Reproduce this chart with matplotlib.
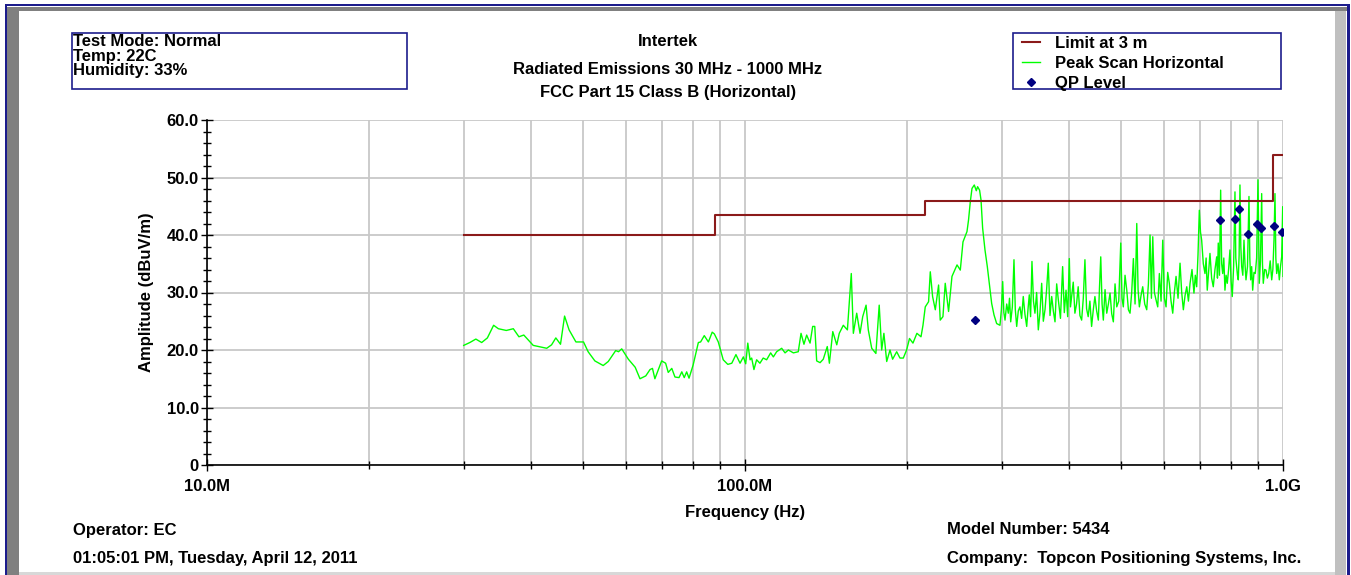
"""
radiated emission plot (FCC Part 15 Class B, horizontal)
"""

#------------------------------------------------------------
# import
import matplotlib
matplotlib.use("Agg")
import matplotlib.pyplot as plt
import matplotlib.ticker as mticker
from matplotlib.patches import Rectangle, Polygon
import numpy as np

#------------------------------------------------------------
# data

# peak scan (MHz / dBuV/m), 30 - 103 MHz
peak_freq_low = [
    30.0, 30.8, 31.6, 32.4, 33.2, 34.1, 34.8, 36.0, 37.1, 38.0,
    38.8, 40.4, 42.8, 43.7, 44.5, 45.4, 46.2, 47.1, 48.5, 50.1,
    51.1, 52.6, 54.5, 55.7, 57.5, 58.2, 59.0, 60.7, 62.5, 63.8,
    65.4, 66.6, 67.3, 68.0, 70.0, 71.2, 72.0, 73.1, 74.1, 75.4,
    76.3, 77.1, 77.9, 78.7, 80.1, 81.9, 82.7, 84.0, 85.5, 86.9,
    87.7, 89.2, 91.1, 92.9, 94.5, 96.2, 97.9, 99.3, 100.3, 101.2,
    102.2, 102.9,
]
peak_level_low = [
    20.8, 21.3, 21.9, 21.3, 22.1, 24.3, 23.7, 23.4, 23.7, 22.3,
    22.6, 20.8, 20.3, 20.9, 22.1, 21.0, 25.9, 23.5, 21.4, 21.4,
    19.7, 18.1, 17.3, 18.0, 19.9, 19.7, 20.2, 18.4, 17.0, 15.0,
    15.5, 16.6, 16.8, 15.0, 18.1, 17.7, 16.1, 16.8, 15.3, 15.2,
    16.2, 15.2, 16.2, 15.1, 17.4, 21.3, 21.4, 22.5, 21.4, 23.1,
    22.8, 21.4, 18.3, 17.5, 17.7, 19.2, 17.7, 18.8, 17.6, 21.2,
    18.3, 18.6,
]

# 104 - 273 MHz
peak_freq_mid = [
    103.9, 105.1, 106.6, 108.1, 109.7, 111.6, 112.9, 114.5, 117.0, 118.7,
    120.4, 123.0, 125.6, 127.1, 128.7, 130.2, 132.1, 133.6, 134.8, 135.9,
    137.9, 139.8, 142.2, 143.5, 145.6, 148.1, 149.7, 152.3, 155.0, 157.6,
    159.0, 161.3, 163.6, 165.5, 167.9, 169.5, 172.0, 175.1, 177.6, 179.5,
    181.2, 183.4, 186.0, 188.1, 191.4, 194.1, 196.9, 199.7, 202.2, 205.2,
    208.7, 212.4, 214.2, 216.3, 219.4, 221.0, 223.2, 225.8, 229.0, 230.6,
    233.3, 235.6, 239.0, 242.5, 247.8, 251.3, 254.2, 258.6, 260.3, 262.3,
    264.2, 266.8, 269.1, 270.6, 272.9,
]
peak_level_mid = [
    16.6, 18.3, 17.7, 18.6, 18.3, 19.5, 18.8, 19.7, 20.3, 19.5,
    20.0, 19.5, 19.7, 22.9, 21.0, 22.6, 21.2, 24.1, 24.1, 18.1,
    17.8, 18.4, 20.6, 17.7, 23.2, 20.9, 22.9, 24.3, 23.5, 33.3,
    22.9, 26.4, 22.9, 25.8, 27.8, 23.5, 20.3, 19.4, 27.8, 20.0,
    22.9, 18.0, 20.0, 18.4, 19.7, 18.6, 18.6, 20.0, 22.0, 21.2,
    22.9, 22.3, 24.3, 27.5, 28.4, 33.6, 29.3, 27.0, 31.3, 25.2,
    25.8, 31.6, 26.7, 32.8, 34.8, 33.9, 38.8, 40.6, 42.6, 45.8,
    48.1, 48.7, 47.7, 48.4, 47.8,
]

# 275 - 1000 MHz
peak_freq_high = [
    274.6, 276.5, 279.3, 282.1, 284.5, 287.4, 290.3, 293.6, 297.8, 299.6,
    301.3, 302.8, 304.3, 306.5, 308.6, 310.2, 311.8, 314.0, 316.2, 318.0,
    319.9, 322.1, 324.4, 326.7, 329.0, 331.4, 333.9, 335.7, 337.6, 339.5,
    341.5, 343.7, 345.9, 348.4, 350.9, 353.4, 356.0, 358.5, 361.1, 363.6,
    366.2, 368.9, 371.6, 374.2, 376.9, 379.6, 382.3, 385.8, 389.4, 392.2,
    395.1, 397.9, 400.7, 402.7, 404.7, 407.5, 410.4, 413.3, 416.2, 419.3,
    422.4, 425.4, 428.4, 431.4, 434.4, 437.6, 440.8, 444.0, 447.1, 450.4,
    453.7, 456.0, 458.4, 461.0, 463.5, 466.9, 470.3, 473.6, 477.0, 480.4,
    483.8, 487.3, 490.9, 495.1, 499.4, 502.1, 504.9, 508.6, 512.4, 516.0,
    519.6, 523.3, 527.1, 530.9, 534.8, 537.8, 540.8, 544.7, 548.6, 553.3,
    558.1, 562.1, 566.1, 569.4, 572.7, 576.7, 580.8, 585.0, 589.1, 593.4,
    597.7, 601.9, 606.2, 610.5, 614.8, 619.3, 623.8, 628.2, 632.7, 638.1,
    643.6, 648.2, 652.8, 657.6, 662.4, 667.1, 671.8, 677.4, 683.1, 687.1,
    691.1, 695.0, 699.0, 702.5, 706.0, 711.0, 716.1, 719.6, 723.1, 727.3,
    731.6, 736.8, 742.0, 747.4, 752.9, 755.4, 758.0, 761.9, 765.8, 769.1,
    772.5, 776.2, 780.0, 783.9, 787.8, 792.3, 796.9, 800.8, 804.8, 809.5,
    814.2, 817.1, 820.1, 822.9, 825.8, 828.8, 831.8, 834.8, 837.9, 842.0,
    846.2, 849.8, 853.5, 859.0, 864.5, 867.6, 870.7, 874.5, 878.3, 883.2,
    888.1, 893.3, 898.5, 903.5, 908.1, 912.8, 915.9, 919.1, 924.4, 929.8,
    935.2, 940.6, 946.7, 952.8, 957.5, 962.2, 966.3, 969.8, 973.4, 978.8,
    984.3, 989.3, 994.4, 998.7, 1000.0,
]
peak_level_high = [
    46.1, 41.2, 37.4, 34.5, 31.6, 28.1, 26.1, 24.6, 24.3, 27.0,
    31.9, 26.5, 25.2, 28.0, 26.4, 29.0, 24.9, 27.5, 35.7, 27.0,
    24.1, 26.8, 27.5, 25.5, 29.3, 26.2, 24.1, 27.0, 29.6, 25.8,
    35.4, 28.5, 26.4, 30.0, 23.5, 26.5, 31.6, 25.0, 27.0, 30.5,
    35.1, 26.0, 29.3, 26.8, 24.9, 31.5, 28.7, 25.5, 34.5, 26.5,
    30.4, 25.8, 35.9, 27.5, 29.3, 31.8, 26.4, 28.0, 31.0, 26.0,
    25.2, 29.0, 35.7, 27.2, 25.8, 28.5, 24.1, 27.0, 29.3, 26.8,
    25.2, 31.0, 36.2, 28.0, 25.2, 30.5, 26.4, 28.0, 29.9, 26.3,
    24.9, 31.5, 27.5, 28.5, 38.6, 29.0, 27.5, 33.0, 30.4, 27.0,
    26.4, 30.0, 35.9, 28.0, 42.0, 30.5, 27.5, 29.5, 31.0, 28.0,
    27.0, 31.5, 40.0, 29.0, 39.7, 30.0, 28.7, 27.5, 33.3, 28.5,
    39.1, 29.0, 27.5, 33.5, 31.6, 28.5, 26.4, 30.0, 32.8, 29.0,
    35.1, 30.0, 27.0, 29.5, 31.0, 28.5, 31.6, 34.0, 29.9, 33.0,
    31.0, 36.5, 44.3, 40.5, 39.1, 35.0, 33.3, 36.0, 30.4, 33.5,
    36.8, 32.5, 31.0, 34.0, 36.2, 32.5, 38.6, 33.0, 47.8, 35.0,
    33.3, 36.0, 30.4, 33.0, 31.6, 34.0, 37.4, 32.0, 29.3, 34.5,
    47.5, 36.0, 34.5, 33.0, 32.2, 36.5, 48.7, 38.0, 34.5, 33.0,
    39.1, 35.0, 32.2, 34.5, 46.7, 36.0, 32.2, 34.5, 30.4, 33.5,
    33.3, 36.0, 49.6, 31.6, 35.5, 47.2, 35.0, 31.6, 34.0, 33.9,
    32.5, 33.3, 35.5, 32.2, 34.0, 39.1, 47.2, 36.0, 33.3, 35.0,
    32.2, 34.5, 36.2, 44.9, 32.8,
]

# limit at 3 m (step line)
limit_freq = [30.0, 88.0, 88.0, 216.0, 216.0, 960.0, 960.0, 1000.0]
limit_level = [40.0, 40.0, 43.5, 43.5, 46.0, 46.0, 54.0, 54.0]

# QP level
qp_freq = [268.0, 764.0, 814.0, 829.0, 861.0, 896.0, 910.0, 963.0, 996.0]
qp_level = [25.3, 42.6, 42.7, 44.6, 40.2, 42.0, 41.2, 41.5, 40.6]

# texts
info_lines = ["Test Mode: Normal", "Temp: 22C", "Humidity: 33%"]
title_lines = ["Intertek", "Radiated Emissions 30 MHz - 1000 MHz",
               "FCC Part 15 Class B (Horizontal)"]
legend_labels = ["Limit at 3 m", "Peak Scan Horizontal", "QP Level"]
y_ticks = [0, 10, 20, 30, 40, 50, 60]
y_tick_labels = ["0", "10.0", "20.0", "30.0", "40.0", "50.0", "60.0"]
x_ticks = [10e6, 100e6, 1000e6]
x_tick_labels = ["10.0M", "100.0M", "1.0G"]

#------------------------------------------------------------
# style
W, H = 1351, 575
plt.rcParams["font.family"] = ["Liberation Sans Narrow", "Liberation Sans", "DejaVu Sans"]
plt.rcParams["font.weight"] = "bold"
FS = 12.0
NAVY = "#1c1c8c"
LIMIT_C = "#8b1a1a"
GREEN = "#00ff00"
GRID_C = "#c8c8c8"


def px(x, y):
    # pixel (from top-left) -> figure fraction
    return x / W, 1 - y / H


fig = plt.figure(figsize=(W / 100, H / 100), dpi=100)

# ---- outer frame ----
def frect(x0, y0, x1, y1, color):
    fig.patches.append(Rectangle(px(x0, y1), (x1 - x0) / W, (y1 - y0) / H,
                                 transform=fig.transFigure, color=color, lw=0, zorder=0))

frect(6, 4, 1350, 6, NAVY)          # top navy line
frect(7, 7, 1347, 11, "#808080")    # top gray band
frect(5, 4, 7, 575, NAVY)           # left navy
frect(7, 7, 19, 575, "#808080")     # left gray bar
frect(1335, 11, 1346, 575, "#c0c0c0")  # right light bar
frect(1347, 4, 1350, 575, NAVY)     # right navy
frect(19, 572, 1335, 575, "#d8d8d8")   # bottom edge
fig.patches.append(Polygon([px(19, 11), px(7, 7), px(19, 7)], closed=True,
                           transform=fig.transFigure, color="#808080", lw=0))

# ---- axes ----
ax = fig.add_axes([207 / W, 1 - 465 / H, (1283 - 207) / W, (465 - 120) / H])

peak_freq = np.array(peak_freq_low + peak_freq_mid + peak_freq_high) * 1e6
peak_level = np.array(peak_level_low + peak_level_mid + peak_level_high)

l_lim, = ax.plot(np.array(limit_freq) * 1e6, limit_level, color=LIMIT_C, lw=1.5, zorder=4)
l_pk, = ax.plot(peak_freq, peak_level, color=GREEN, lw=1.0, zorder=3)
l_qp, = ax.plot(np.array(qp_freq) * 1e6, qp_level, ls="none", marker="D",
                ms=4.5, color="#000080", zorder=5)

ax.set_xscale("log")
ax.set_xlim(10e6, 1000e6)
ax.set_ylim(0, 60)

ax.set_xticks(x_ticks)
ax.set_xticklabels(x_tick_labels)
ax.xaxis.set_minor_locator(mticker.LogLocator(base=10, subs=np.arange(2, 10)))
ax.xaxis.set_minor_formatter(mticker.NullFormatter())
ax.set_yticks(y_ticks)
ax.set_yticklabels(y_tick_labels)
ax.yaxis.set_minor_locator(mticker.MultipleLocator(2))

ax.tick_params(axis="both", which="major", direction="inout", length=8, width=1,
               labelsize=FS)
ax.tick_params(axis="x", which="major", pad=6)
ax.tick_params(axis="y", which="major", pad=2)
ax.tick_params(axis="both", which="minor", direction="inout", length=6, width=1)
for lab in ax.get_xticklabels() + ax.get_yticklabels():
    lab.set_fontweight("bold")

ax.grid(True, which="both", axis="x", color=GRID_C, lw=1.3, zorder=0)
ax.grid(True, which="major", axis="y", color=GRID_C, lw=1.3, zorder=0)
ax.set_axisbelow(True)
for s in ["top", "right"]:
    ax.spines[s].set_visible(False)
for s in ["left", "bottom"]:
    ax.spines[s].set_linewidth(1.2)

ax.set_xlabel("Frequency (Hz)", fontsize=FS, fontweight="bold", labelpad=8)
ax.set_ylabel("Amplitude (dBuV/m)", fontsize=FS, fontweight="bold", labelpad=9)

# ---- info box ----
fig.patches.append(Rectangle(px(72, 89), (407 - 72) / W, (89 - 33) / H,
                             transform=fig.transFigure, fill=False, ec=NAVY, lw=1.2))
for i, t in enumerate(info_lines):
    fig.text(*px(73, 42 + 14.5 * i), t, fontsize=FS, fontweight="bold", va="center", ha="left")

# ---- title ----
for t, yy in zip(title_lines, [41, 69.5, 93]):
    fig.text(*px(668, yy), t, fontsize=FS, fontweight="bold", ha="center", va="center")

# ---- legend ----
fig.patches.append(Rectangle(px(1013, 89), (1281 - 1013) / W, (89 - 33) / H,
                             transform=fig.transFigure, fill=False, ec=NAVY, lw=1.2))
leg = fig.legend([l_lim, l_pk, l_qp], legend_labels, loc="upper left",
                 bbox_to_anchor=px(1022, 36), frameon=False, fontsize=FS,
                 handlelength=1.1, handletextpad=0.9, labelspacing=0.3,
                 borderpad=0.0, borderaxespad=0.0, markerscale=0.8)

# ---- footer ----
fig.text(*px(73, 530), "Operator: EC", fontsize=FS, fontweight="bold", va="center")
fig.text(*px(73, 558), "01:05:01 PM, Tuesday, April 12, 2011", fontsize=FS,
         fontweight="bold", va="center")
fig.text(*px(947, 529), "Model Number: 5434", fontsize=FS, fontweight="bold", va="center")
fig.text(*px(947, 558), "Company:  Topcon Positioning Systems, Inc.", fontsize=FS,
         fontweight="bold", va="center")

fig.savefig("out.png", dpi=100)
